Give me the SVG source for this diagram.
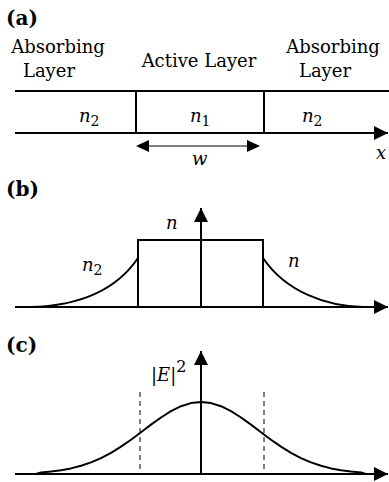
<svg xmlns="http://www.w3.org/2000/svg" width="389" height="482" viewBox="0 0 389 482">
<style>
text{font-family:'DejaVu Serif','Liberation Serif','Times New Roman',serif}
.t{font-size:18px;fill:#000}
.i{font-style:italic}
.lbl{font-size:20px;font-weight:bold;fill:#000}
.ln{stroke:#000;stroke-width:2;fill:none}
.cv{stroke:#000;stroke-width:2;fill:none}
.ds{stroke:#000;stroke-width:1;stroke-dasharray:5,4;fill:none}
.sub{font-size:14px;font-style:normal}
</style>
<defs>
<marker id="ah" viewBox="0 0 10 10" refX="10" refY="5" markerWidth="15" markerHeight="14" markerUnits="userSpaceOnUse" orient="auto" overflow="visible">
<path d="M0,0 L10,5 L0,10 Z" fill="#000"/>
</marker>
</defs>
<rect width="389" height="482" fill="#fff"/>

<g id="panel-a">
<text class="lbl" x="6" y="25">(a)</text>
<g id="abs-left"><text class="t" x="58" y="53" text-anchor="middle">Absorbing</text><text class="t" x="49" y="77" text-anchor="middle">Layer</text></g>
<g id="active"><text class="t" x="199" y="67" text-anchor="middle">Active Layer</text></g>
<g id="abs-right"><text class="t" x="333" y="53" text-anchor="middle">Absorbing</text><text class="t" x="325" y="77" text-anchor="middle">Layer</text></g>
<g id="layers">
<line class="ln" x1="15" y1="91" x2="389" y2="91"/>
<line class="ln" x1="136" y1="91" x2="136" y2="133"/>
<line class="ln" x1="264" y1="91" x2="264" y2="133"/>
</g>
<g id="n-labels">
<text class="t i" x="79" y="122">n<tspan class="sub" dy="4">2</tspan></text>
<text class="t i" x="190" y="122">n<tspan class="sub" dy="4">1</tspan></text>
<text class="t i" x="302" y="122">n<tspan class="sub" dy="4">2</tspan></text>
<text class="t i" x="192" y="165">w</text>
<text class="t i" x="376" y="159">x</text>
</g>
</g>

<g id="connectors">
<line class="ln" x1="15" y1="133" x2="388" y2="133" marker-end="url(#ah)"/>
<g id="w-arrow">
<line x1="146" y1="146" x2="250" y2="146" stroke="#555" stroke-width="1.5"/>
<path d="M136,146 L149,140 L149,152 Z" fill="#000"/>
<path d="M260,146 L247,140 L247,152 Z" fill="#000"/>
</g>
<line class="ln" x1="15" y1="307" x2="388" y2="307" marker-end="url(#ah)"/>
<line class="ln" x1="201" y1="307" x2="201" y2="208" marker-end="url(#ah)"/>
<line class="ln" x1="15" y1="474" x2="388" y2="474" marker-end="url(#ah)"/>
<line class="ln" x1="201" y1="474" x2="201" y2="351" marker-end="url(#ah)"/>
</g>

<g id="panel-b">
<text class="lbl" x="6" y="196">(b)</text>
<path class="ln" d="M138,307 L138,240 L263,240 L263,307"/>
<path class="cv" d="M30,307 C75,306 115,292 138,258"/>
<path class="cv" d="M263,258 C286,292 326,306 363,307"/>
<text class="t i" x="166" y="229">n</text>
<text class="t i" x="82" y="271">n<tspan class="sub" dy="4">2</tspan></text>
<text class="t i" x="288" y="267">n</text>
</g>

<g id="panel-c">
<text class="lbl" x="6" y="352">(c)</text>
<line class="ds" x1="140" y1="392" x2="140" y2="474"/>
<line class="ds" x1="264" y1="392" x2="264" y2="474"/>
<path class="cv" d="M36,474 L41,472.5 L51,471.6 L61,470.3 L71,468.4 L81,465.8 L91,462.4 L101,458.1 L111,452.8 L121,446.6 L131,439.7 L141,432.2 L151,424.6 L161,417.5 L171,411.2 L181,406.2 L191,403.1 L201,402 L211,403.1 L221,406.2 L231,411.2 L241,417.5 L251,424.6 L261,432.2 L271,439.7 L281,446.6 L291,452.8 L301,458.1 L311,462.4 L321,465.8 L331,468.4 L341,470.3 L351,471.6 L361,472.5 L366,474" stroke-linejoin="round"/>
<text class="t" x="151" y="381">|<tspan class="i">E</tspan>|<tspan font-size="16" dy="-9">2</tspan></text>
</g>
</svg>
